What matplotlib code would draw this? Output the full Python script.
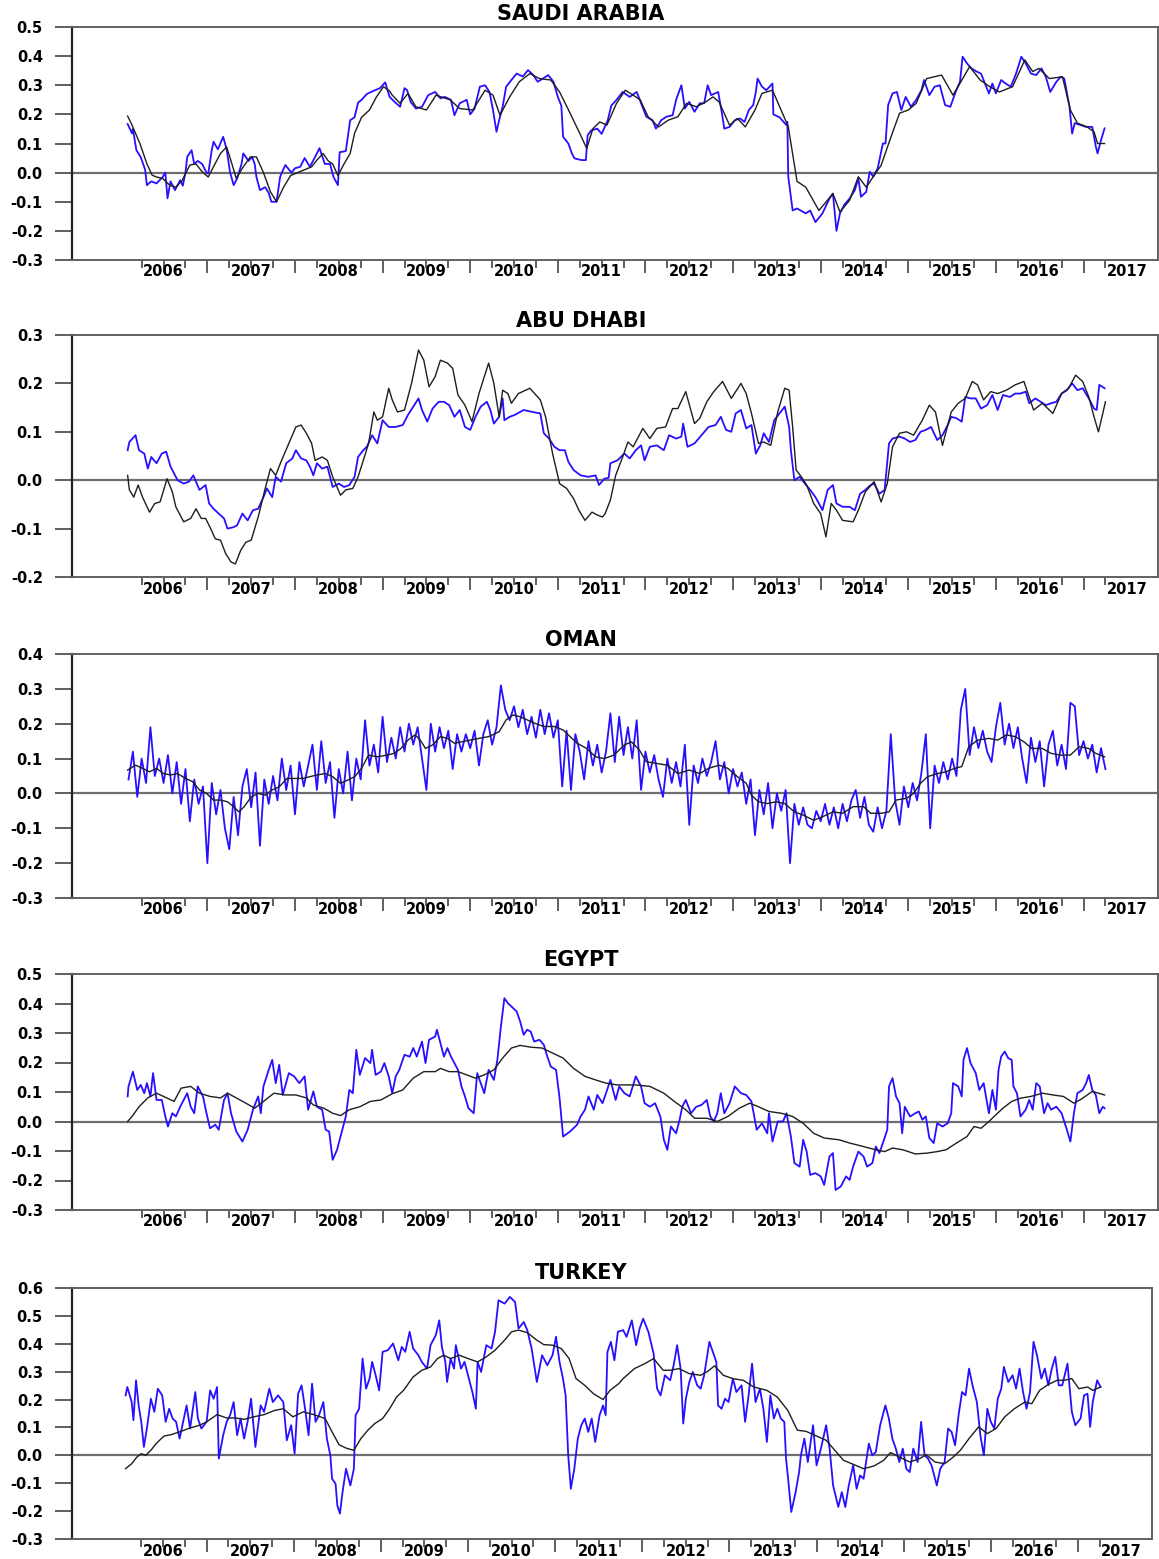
import numpy as np
import matplotlib
matplotlib.use("Agg")
import matplotlib.pyplot as plt

# Values: (decimal year, value)
SA_BLUE = [
    (2006.09, 0.167), (2006.14, 0.135), (2006.15, 0.15), (2006.19, 0.077), (2006.24, 0.053),
    (2006.29, 0.01), (2006.31, -0.043), (2006.36, -0.03), (2006.42, -0.037), (2006.49, -0.015),
    (2006.52, 0.0), (2006.545, -0.088), (2006.58, -0.03), (2006.63, -0.06), (2006.69, -0.026),
    (2006.72, -0.045), (2006.75, 0.0), (2006.77, 0.054), (2006.82, 0.077), (2006.85, 0.03),
    (2006.89, 0.04), (2006.94, 0.03), (2006.99, 0.0), (2007.01, -0.003), (2007.05, 0.077),
    (2007.07, 0.106), (2007.12, 0.08), (2007.18, 0.123), (2007.22, 0.08), (2007.26, 0.0),
    (2007.30, -0.043), (2007.34, -0.02), (2007.39, 0.03), (2007.41, 0.066), (2007.47, 0.04),
    (2007.51, 0.054), (2007.54, 0.03), (2007.56, -0.015), (2007.60, -0.06), (2007.66, -0.05),
    (2007.70, -0.07), (2007.73, -0.10), (2007.79, -0.10), (2007.83, -0.015), (2007.85, 0.0),
    (2007.89, 0.026), (2007.96, 0.0), (2008.00, 0.015), (2008.06, 0.02), (2008.11, 0.05),
    (2008.17, 0.02), (2008.23, 0.054), (2008.28, 0.084), (2008.34, 0.03), (2008.40, 0.03),
    (2008.44, -0.015), (2008.49, -0.043), (2008.51, 0.07), (2008.58, 0.074), (2008.63, 0.18),
    (2008.68, 0.19), (2008.72, 0.24), (2008.76, 0.25), (2008.82, 0.27), (2008.89, 0.28),
    (2008.97, 0.29), (2009.03, 0.31), (2009.08, 0.26), (2009.13, 0.245), (2009.20, 0.226),
    (2009.25, 0.29), (2009.28, 0.283), (2009.32, 0.243), (2009.38, 0.22), (2009.45, 0.226),
    (2009.52, 0.266), (2009.60, 0.277), (2009.66, 0.255), (2009.71, 0.26), (2009.78, 0.25),
    (2009.82, 0.197), (2009.88, 0.238), (2009.96, 0.25), (2010.00, 0.20), (2010.05, 0.22),
    (2010.11, 0.295), (2010.17, 0.30), (2010.22, 0.277), (2010.26, 0.215), (2010.30, 0.14),
    (2010.33, 0.18), (2010.37, 0.226), (2010.41, 0.295), (2010.47, 0.318), (2010.53, 0.34),
    (2010.60, 0.33), (2010.66, 0.352), (2010.72, 0.335), (2010.77, 0.312), (2010.83, 0.323),
    (2010.89, 0.335), (2010.95, 0.312), (2011.00, 0.26), (2011.04, 0.23), (2011.06, 0.123),
    (2011.12, 0.10), (2011.16, 0.066), (2011.19, 0.049), (2011.27, 0.043), (2011.32, 0.043),
    (2011.34, 0.128), (2011.38, 0.145), (2011.45, 0.151), (2011.50, 0.133), (2011.57, 0.18),
    (2011.61, 0.23), (2011.67, 0.25), (2011.74, 0.277), (2011.82, 0.26), (2011.90, 0.277),
    (2011.95, 0.238), (2012.01, 0.192), (2012.08, 0.18), (2012.12, 0.151), (2012.18, 0.18),
    (2012.24, 0.192), (2012.31, 0.197), (2012.35, 0.25), (2012.41, 0.30), (2012.45, 0.22),
    (2012.50, 0.243), (2012.56, 0.209), (2012.62, 0.238), (2012.67, 0.238), (2012.71, 0.30),
    (2012.75, 0.266), (2012.83, 0.277), (2012.87, 0.209), (2012.90, 0.151), (2012.96, 0.157),
    (2013.02, 0.18), (2013.08, 0.186), (2013.13, 0.174), (2013.18, 0.215), (2013.23, 0.232),
    (2013.26, 0.277), (2013.28, 0.323), (2013.33, 0.295), (2013.38, 0.283), (2013.45, 0.306),
    (2013.46, 0.20), (2013.53, 0.19), (2013.61, 0.163), (2013.62, 0.174), (2013.63, -0.014),
    (2013.66, -0.083), (2013.68, -0.13), (2013.73, -0.123), (2013.83, -0.14), (2013.88, -0.13),
    (2013.94, -0.17), (2014.02, -0.14), (2014.10, -0.089), (2014.14, -0.072), (2014.18, -0.20),
    (2014.22, -0.14), (2014.27, -0.11), (2014.33, -0.089), (2014.39, -0.06), (2014.43, -0.02),
    (2014.46, -0.083), (2014.52, -0.066), (2014.56, 0.003), (2014.60, -0.014), (2014.65, 0.014),
    (2014.71, 0.10), (2014.74, 0.10), (2014.77, 0.232), (2014.82, 0.272), (2014.87, 0.277),
    (2014.92, 0.215), (2014.97, 0.26), (2015.03, 0.226), (2015.09, 0.25), (2015.15, 0.283),
    (2015.18, 0.318), (2015.24, 0.266), (2015.30, 0.295), (2015.36, 0.30), (2015.42, 0.232),
    (2015.48, 0.226), (2015.54, 0.277), (2015.59, 0.312), (2015.62, 0.398), (2015.67, 0.375),
    (2015.72, 0.358), (2015.78, 0.347), (2015.83, 0.34), (2015.89, 0.295), (2015.92, 0.272),
    (2015.96, 0.306), (2016.00, 0.272), (2016.06, 0.318), (2016.11, 0.306), (2016.17, 0.295),
    (2016.23, 0.34), (2016.29, 0.398), (2016.34, 0.375), (2016.40, 0.34), (2016.46, 0.335),
    (2016.52, 0.358), (2016.57, 0.329), (2016.62, 0.277), (2016.69, 0.312), (2016.74, 0.329),
    (2016.78, 0.323), (2016.84, 0.226), (2016.87, 0.134), (2016.90, 0.17), (2016.97, 0.163),
    (2017.03, 0.157), (2017.10, 0.157), (2017.14, 0.09), (2017.16, 0.066), (2017.20, 0.112),
    (2017.24, 0.152),
]
SA_BLACK = [
    (2006.09, 0.194), (2006.13, 0.17), (2006.23, 0.10), (2006.31, 0.03), (2006.37, -0.009),
    (2006.42, -0.015), (2006.49, -0.02), (2006.57, -0.043), (2006.64, -0.05), (2006.71, -0.028),
    (2006.80, 0.026), (2006.87, 0.03), (2006.94, 0.003), (2007.01, -0.015), (2007.07, 0.02),
    (2007.15, 0.066), (2007.22, 0.088), (2007.27, 0.04), (2007.33, -0.02), (2007.41, 0.02),
    (2007.49, 0.054), (2007.56, 0.054), (2007.64, 0.0), (2007.72, -0.066), (2007.79, -0.10),
    (2007.87, -0.05), (2007.95, -0.01), (2008.03, 0.0), (2008.11, 0.01), (2008.19, 0.02),
    (2008.25, 0.043), (2008.32, 0.066), (2008.38, 0.04), (2008.43, 0.03), (2008.49, -0.01),
    (2008.56, 0.03), (2008.63, 0.066), (2008.68, 0.135), (2008.76, 0.19), (2008.85, 0.215),
    (2008.93, 0.26), (2009.01, 0.295), (2009.08, 0.28), (2009.11, 0.266), (2009.20, 0.238),
    (2009.29, 0.272), (2009.38, 0.226), (2009.50, 0.215), (2009.61, 0.266), (2009.77, 0.25),
    (2009.88, 0.22), (2010.03, 0.215), (2010.17, 0.283), (2010.26, 0.266), (2010.34, 0.197),
    (2010.45, 0.26), (2010.56, 0.312), (2010.68, 0.34), (2010.79, 0.323), (2010.92, 0.318),
    (2011.02, 0.277), (2011.14, 0.204), (2011.25, 0.135), (2011.33, 0.083), (2011.40, 0.151),
    (2011.48, 0.174), (2011.56, 0.163), (2011.67, 0.238), (2011.77, 0.283), (2011.86, 0.266),
    (2011.94, 0.25), (2012.03, 0.192), (2012.15, 0.157), (2012.26, 0.18), (2012.37, 0.192),
    (2012.47, 0.238), (2012.58, 0.226), (2012.69, 0.243), (2012.77, 0.26), (2012.84, 0.243),
    (2012.96, 0.163), (2013.05, 0.186), (2013.14, 0.157), (2013.25, 0.215), (2013.33, 0.272),
    (2013.45, 0.283), (2013.63, 0.158), (2013.73, -0.03), (2013.83, -0.05), (2013.98, -0.13),
    (2014.14, -0.072), (2014.22, -0.135), (2014.33, -0.095), (2014.43, -0.014), (2014.52, -0.05),
    (2014.60, -0.014), (2014.69, 0.025), (2014.79, 0.112), (2014.90, 0.204), (2015.00, 0.215),
    (2015.09, 0.238), (2015.21, 0.323), (2015.38, 0.335), (2015.51, 0.266), (2015.60, 0.312),
    (2015.70, 0.364), (2015.82, 0.318), (2015.93, 0.295), (2016.04, 0.277), (2016.19, 0.295),
    (2016.33, 0.387), (2016.42, 0.347), (2016.49, 0.358), (2016.61, 0.323), (2016.76, 0.329),
    (2016.85, 0.215), (2016.93, 0.17), (2017.04, 0.157), (2017.12, 0.14), (2017.16, 0.10),
    (2017.24, 0.10),
]

AD_BLUE = [
    (2006.09, 0.062), (2006.11, 0.079), (2006.18, 0.093), (2006.22, 0.062), (2006.28, 0.055),
    (2006.32, 0.024), (2006.36, 0.048), (2006.42, 0.035), (2006.48, 0.055), (2006.53, 0.059),
    (2006.58, 0.028), (2006.66, 0.0), (2006.73, -0.007), (2006.79, -0.003), (2006.84, 0.01),
    (2006.91, -0.02), (2006.98, -0.01), (2007.02, -0.048), (2007.07, -0.059), (2007.13, -0.069),
    (2007.19, -0.079), (2007.23, -0.10), (2007.30, -0.097), (2007.34, -0.093), (2007.40, -0.069),
    (2007.46, -0.083), (2007.52, -0.062), (2007.58, -0.059), (2007.64, -0.035), (2007.68, -0.017),
    (2007.74, -0.035), (2007.78, 0.007), (2007.84, -0.003), (2007.90, 0.035), (2007.97, 0.045),
    (2008.01, 0.062), (2008.07, 0.045), (2008.13, 0.041), (2008.17, 0.028), (2008.21, 0.01),
    (2008.25, 0.035), (2008.31, 0.024), (2008.37, 0.028), (2008.43, -0.014), (2008.50, -0.007),
    (2008.56, -0.014), (2008.62, -0.01), (2008.68, 0.007), (2008.72, 0.048), (2008.78, 0.062),
    (2008.82, 0.069), (2008.88, 0.093), (2008.94, 0.076), (2009.00, 0.124), (2009.07, 0.11),
    (2009.15, 0.11), (2009.23, 0.114), (2009.29, 0.135), (2009.35, 0.152), (2009.41, 0.169),
    (2009.45, 0.145), (2009.51, 0.121), (2009.57, 0.148), (2009.64, 0.162), (2009.70, 0.162),
    (2009.76, 0.155), (2009.82, 0.131), (2009.88, 0.145), (2009.94, 0.11), (2010.00, 0.104),
    (2010.06, 0.131), (2010.12, 0.152), (2010.19, 0.162), (2010.23, 0.145), (2010.27, 0.117),
    (2010.33, 0.131), (2010.37, 0.169), (2010.39, 0.124), (2010.45, 0.131), (2010.51, 0.135),
    (2010.61, 0.145), (2010.71, 0.141), (2010.80, 0.138), (2010.84, 0.097), (2010.90, 0.086),
    (2010.96, 0.069), (2011.02, 0.062), (2011.08, 0.062), (2011.12, 0.038), (2011.18, 0.021),
    (2011.26, 0.01), (2011.35, 0.007), (2011.43, 0.01), (2011.47, -0.01), (2011.53, 0.003),
    (2011.58, 0.005), (2011.60, 0.035), (2011.68, 0.041), (2011.76, 0.055), (2011.82, 0.045),
    (2011.89, 0.062), (2011.95, 0.072), (2011.99, 0.041), (2012.05, 0.069), (2012.13, 0.072),
    (2012.21, 0.062), (2012.27, 0.093), (2012.35, 0.086), (2012.41, 0.090), (2012.43, 0.117),
    (2012.48, 0.069), (2012.56, 0.076), (2012.64, 0.093), (2012.72, 0.11), (2012.80, 0.114),
    (2012.86, 0.131), (2012.92, 0.104), (2012.98, 0.10), (2013.03, 0.138), (2013.09, 0.145),
    (2013.15, 0.107), (2013.21, 0.114), (2013.26, 0.055), (2013.31, 0.072), (2013.35, 0.097),
    (2013.41, 0.079), (2013.47, 0.124), (2013.53, 0.138), (2013.59, 0.152), (2013.64, 0.11),
    (2013.66, 0.062), (2013.70, 0.0), (2013.76, 0.007), (2013.82, -0.007), (2013.88, -0.02),
    (2013.94, -0.035), (2013.98, -0.048), (2014.02, -0.062), (2014.08, -0.02), (2014.14, -0.01),
    (2014.18, -0.048), (2014.25, -0.055), (2014.33, -0.055), (2014.39, -0.062), (2014.45, -0.028),
    (2014.51, -0.02), (2014.57, -0.01), (2014.61, -0.007), (2014.67, -0.028), (2014.73, -0.02),
    (2014.78, 0.076), (2014.82, 0.086), (2014.90, 0.09), (2014.96, 0.086), (2015.02, 0.079),
    (2015.08, 0.083), (2015.14, 0.10), (2015.20, 0.104), (2015.26, 0.11), (2015.33, 0.083),
    (2015.39, 0.093), (2015.45, 0.114), (2015.49, 0.131), (2015.55, 0.128), (2015.61, 0.121),
    (2015.65, 0.172), (2015.71, 0.169), (2015.77, 0.169), (2015.83, 0.148), (2015.90, 0.155),
    (2015.96, 0.176), (2016.02, 0.145), (2016.08, 0.176), (2016.16, 0.172), (2016.22, 0.179),
    (2016.28, 0.179), (2016.34, 0.183), (2016.38, 0.159), (2016.45, 0.169), (2016.51, 0.162),
    (2016.57, 0.155), (2016.63, 0.159), (2016.69, 0.162), (2016.75, 0.179), (2016.81, 0.186),
    (2016.87, 0.20), (2016.93, 0.186), (2016.99, 0.190), (2017.06, 0.169), (2017.12, 0.148),
    (2017.15, 0.145), (2017.18, 0.197), (2017.24, 0.19),
]
AD_BLACK = [
    (2006.09, 0.01), (2006.11, -0.02), (2006.16, -0.035), (2006.21, -0.01), (2006.26, -0.035),
    (2006.34, -0.066), (2006.40, -0.048), (2006.46, -0.045), (2006.54, 0.003), (2006.60, -0.024),
    (2006.64, -0.055), (2006.73, -0.086), (2006.81, -0.079), (2006.87, -0.059), (2006.93, -0.079),
    (2006.98, -0.079), (2007.03, -0.097), (2007.09, -0.121), (2007.15, -0.124), (2007.21, -0.152),
    (2007.27, -0.169), (2007.32, -0.173), (2007.38, -0.145), (2007.44, -0.128), (2007.50, -0.124),
    (2007.58, -0.076), (2007.66, -0.017), (2007.72, 0.024), (2007.78, 0.01), (2007.84, 0.038),
    (2007.93, 0.076), (2008.01, 0.11), (2008.07, 0.114), (2008.13, 0.097), (2008.19, 0.076),
    (2008.23, 0.041), (2008.31, 0.048), (2008.37, 0.041), (2008.43, 0.007), (2008.52, -0.031),
    (2008.58, -0.02), (2008.66, -0.017), (2008.72, 0.007), (2008.78, 0.041), (2008.84, 0.076),
    (2008.90, 0.141), (2008.94, 0.124), (2009.00, 0.131), (2009.07, 0.19), (2009.11, 0.166),
    (2009.17, 0.141), (2009.25, 0.145), (2009.33, 0.20), (2009.41, 0.269), (2009.47, 0.248),
    (2009.53, 0.193), (2009.60, 0.214), (2009.66, 0.248), (2009.74, 0.242), (2009.80, 0.231),
    (2009.86, 0.176), (2009.94, 0.155), (2010.02, 0.121), (2010.10, 0.179), (2010.21, 0.242),
    (2010.27, 0.20), (2010.33, 0.131), (2010.37, 0.186), (2010.43, 0.179), (2010.47, 0.159),
    (2010.55, 0.179), (2010.68, 0.19), (2010.80, 0.166), (2010.86, 0.131), (2010.94, 0.055),
    (2011.02, -0.007), (2011.10, -0.017), (2011.18, -0.038), (2011.24, -0.062), (2011.31, -0.083),
    (2011.39, -0.066), (2011.45, -0.072), (2011.51, -0.076), (2011.54, -0.069), (2011.60, -0.041),
    (2011.66, 0.01), (2011.74, 0.048), (2011.80, 0.079), (2011.86, 0.069), (2011.97, 0.107),
    (2012.05, 0.086), (2012.13, 0.107), (2012.23, 0.11), (2012.31, 0.148), (2012.37, 0.148),
    (2012.46, 0.183), (2012.56, 0.117), (2012.62, 0.128), (2012.70, 0.162), (2012.78, 0.183),
    (2012.88, 0.204), (2012.98, 0.169), (2013.09, 0.20), (2013.15, 0.179), (2013.21, 0.138),
    (2013.29, 0.076), (2013.35, 0.079), (2013.43, 0.072), (2013.51, 0.141), (2013.59, 0.19),
    (2013.64, 0.186), (2013.68, 0.11), (2013.72, 0.021), (2013.78, 0.007), (2013.84, -0.01),
    (2013.92, -0.048), (2014.00, -0.069), (2014.06, -0.117), (2014.12, -0.048), (2014.18, -0.062),
    (2014.25, -0.083), (2014.37, -0.086), (2014.43, -0.062), (2014.51, -0.024), (2014.61, -0.003),
    (2014.69, -0.045), (2014.76, -0.007), (2014.82, 0.069), (2014.90, 0.097), (2014.98, 0.10),
    (2015.06, 0.093), (2015.16, 0.124), (2015.24, 0.155), (2015.31, 0.141), (2015.39, 0.072),
    (2015.49, 0.141), (2015.57, 0.159), (2015.65, 0.169), (2015.73, 0.204), (2015.79, 0.197),
    (2015.86, 0.166), (2015.94, 0.183), (2016.02, 0.179), (2016.12, 0.186), (2016.22, 0.197),
    (2016.32, 0.204), (2016.43, 0.145), (2016.53, 0.159), (2016.65, 0.138), (2016.75, 0.179),
    (2016.83, 0.19), (2016.91, 0.217), (2016.99, 0.204), (2017.06, 0.172), (2017.12, 0.131),
    (2017.17, 0.10), (2017.22, 0.138), (2017.25, 0.162),
]

# Oman: noisy daily series read at a regular 0.05-year step from 2006.10 to 2017.25
OMAN_BLUE = [
    # 2006.10 - 2006.95
    0.04, 0.12, -0.01, 0.10, 0.03, 0.19, 0.05, 0.10, 0.03, 0.11, 0.00, 0.09, -0.03, 0.07, -0.08, 0.04, -0.03, 0.02,
    # 2007
    -0.20, 0.03, -0.06, 0.01, -0.10, -0.16, -0.01, -0.12, 0.02, 0.07, -0.04, 0.06, -0.15, 0.04, -0.03, 0.05, -0.02, 0.10, 0.01, 0.08,
    # 2008
    -0.06, 0.09, 0.02, 0.08, 0.14, 0.01, 0.15, 0.03, 0.09, -0.07, 0.07, 0.00, 0.12, -0.02, 0.10, 0.04, 0.21, 0.08, 0.14, 0.06,
    # 2009
    0.22, 0.09, 0.16, 0.10, 0.19, 0.12, 0.20, 0.14, 0.19, 0.10, 0.01, 0.20, 0.12, 0.19, 0.13, 0.18, 0.07, 0.17, 0.12, 0.17,
    # 2010
    0.13, 0.18, 0.08, 0.17, 0.21, 0.14, 0.19, 0.31, 0.24, 0.21, 0.25, 0.19, 0.24, 0.17, 0.22, 0.16, 0.24, 0.17, 0.23, 0.16,
    # 2011
    0.21, 0.02, 0.18, 0.01, 0.17, 0.12, 0.04, 0.15, 0.08, 0.14, 0.06, 0.12, 0.23, 0.09, 0.22, 0.11, 0.19, 0.10, 0.21, 0.01,
    # 2012
    0.12, 0.06, 0.11, 0.04, -0.01, 0.10, 0.03, 0.09, 0.02, 0.14, -0.09, 0.08, 0.03, 0.10, 0.05, 0.09, 0.15, 0.04, 0.09, 0.00,
    # 2013
    0.07, 0.02, 0.06, -0.03, 0.04, -0.12, 0.01, -0.06, 0.03, -0.10, 0.00, -0.05, 0.01, -0.20, -0.03, -0.09, -0.04, -0.09, -0.10, -0.05,
    # 2014
    -0.08, -0.03, -0.09, -0.04, -0.10, -0.03, -0.08, -0.02, 0.01, -0.07, -0.01, -0.09, -0.11, -0.04, -0.10, -0.05, 0.17, -0.02, -0.09, 0.02,
    # 2015
    -0.04, 0.03, -0.02, 0.06, 0.17, -0.10, 0.08, 0.03, 0.09, 0.04, 0.10, 0.05, 0.24, 0.30, 0.11, 0.19, 0.13, 0.18, 0.12, 0.09,
    # 2016
    0.19, 0.26, 0.14, 0.20, 0.13, 0.19, 0.10, 0.03, 0.16, 0.09, 0.15, 0.02, 0.14, 0.18, 0.08, 0.14, 0.07, 0.26, 0.25, 0.11,
    # 2017.00 - 2017.25
    0.15, 0.10, 0.14, 0.06, 0.13, 0.07,
]
OMAN_BLACK = [
    (2006.09, 0.067), (2006.18, 0.081), (2006.26, 0.072), (2006.34, 0.062), (2006.42, 0.072),
    (2006.50, 0.057), (2006.58, 0.053), (2006.66, 0.057), (2006.75, 0.043), (2006.83, 0.034),
    (2006.91, 0.01), (2006.99, 0.0), (2007.07, -0.019), (2007.15, -0.019), (2007.23, -0.024),
    (2007.30, -0.038), (2007.36, -0.053), (2007.42, -0.038), (2007.50, -0.01), (2007.58, 0.0),
    (2007.66, -0.005), (2007.74, 0.01), (2007.82, 0.019), (2007.91, 0.043), (2007.99, 0.043),
    (2008.09, 0.043), (2008.17, 0.048), (2008.25, 0.053), (2008.35, 0.057), (2008.43, 0.048),
    (2008.52, 0.029), (2008.60, 0.038), (2008.68, 0.048), (2008.76, 0.072), (2008.84, 0.11),
    (2008.94, 0.105), (2009.05, 0.11), (2009.13, 0.115), (2009.21, 0.129), (2009.29, 0.153),
    (2009.37, 0.168), (2009.43, 0.153), (2009.49, 0.129), (2009.57, 0.139), (2009.66, 0.163),
    (2009.74, 0.158), (2009.82, 0.144), (2009.90, 0.148), (2010.00, 0.153), (2010.10, 0.158),
    (2010.21, 0.163), (2010.33, 0.177), (2010.41, 0.211), (2010.49, 0.225), (2010.57, 0.22),
    (2010.65, 0.211), (2010.74, 0.201), (2010.84, 0.192), (2010.96, 0.192), (2011.06, 0.182),
    (2011.14, 0.163), (2011.22, 0.144), (2011.33, 0.129), (2011.43, 0.105), (2011.53, 0.10),
    (2011.64, 0.11), (2011.76, 0.139), (2011.84, 0.148), (2011.93, 0.125), (2012.01, 0.091),
    (2012.13, 0.086), (2012.25, 0.081), (2012.37, 0.057), (2012.50, 0.067), (2012.62, 0.057),
    (2012.72, 0.072), (2012.84, 0.081), (2012.94, 0.072), (2013.05, 0.048), (2013.15, 0.029),
    (2013.21, -0.005), (2013.29, -0.024), (2013.39, -0.029), (2013.49, -0.024), (2013.59, -0.029),
    (2013.70, -0.053), (2013.80, -0.062), (2013.92, -0.077), (2014.02, -0.067), (2014.14, -0.053),
    (2014.25, -0.057), (2014.37, -0.038), (2014.49, -0.038), (2014.57, -0.057), (2014.69, -0.057),
    (2014.78, -0.053), (2014.86, -0.019), (2014.98, -0.014), (2015.06, 0.0), (2015.14, 0.029),
    (2015.22, 0.048), (2015.33, 0.057), (2015.43, 0.062), (2015.53, 0.072), (2015.61, 0.077),
    (2015.69, 0.134), (2015.79, 0.153), (2015.92, 0.158), (2016.02, 0.153), (2016.12, 0.168),
    (2016.22, 0.163), (2016.32, 0.148), (2016.41, 0.129), (2016.53, 0.129), (2016.63, 0.115),
    (2016.73, 0.11), (2016.85, 0.11), (2016.95, 0.134), (2017.06, 0.129), (2017.14, 0.115),
    (2017.24, 0.105),
]

EG_BLUE = [
    (2006.09, 0.085), (2006.10, 0.119), (2006.15, 0.169), (2006.20, 0.107), (2006.24, 0.124),
    (2006.28, 0.096), (2006.31, 0.13), (2006.35, 0.085), (2006.38, 0.164), (2006.42, 0.073),
    (2006.48, 0.073), (2006.52, 0.017), (2006.55, -0.017), (2006.60, 0.028), (2006.64, 0.017),
    (2006.70, 0.056), (2006.77, 0.096), (2006.81, 0.05), (2006.85, 0.028), (2006.89, 0.119),
    (2006.95, 0.085), (2006.99, 0.028), (2007.03, -0.023), (2007.09, -0.011), (2007.13, -0.028),
    (2007.19, 0.073), (2007.23, 0.096), (2007.27, 0.028), (2007.33, -0.034), (2007.40, -0.068),
    (2007.46, -0.028), (2007.52, 0.04), (2007.58, 0.085), (2007.61, 0.028), (2007.64, 0.119),
    (2007.70, 0.175), (2007.74, 0.209), (2007.78, 0.13), (2007.82, 0.192), (2007.86, 0.09),
    (2007.93, 0.164), (2007.99, 0.153), (2008.05, 0.13), (2008.11, 0.153), (2008.15, 0.04),
    (2008.21, 0.102), (2008.25, 0.05), (2008.31, 0.04), (2008.35, -0.028), (2008.39, -0.034),
    (2008.43, -0.13), (2008.48, -0.096), (2008.54, -0.028), (2008.58, 0.017), (2008.62, 0.107),
    (2008.66, 0.096), (2008.70, 0.243), (2008.74, 0.158), (2008.80, 0.215), (2008.86, 0.198),
    (2008.88, 0.243), (2008.92, 0.158), (2008.98, 0.169), (2009.02, 0.198), (2009.07, 0.153),
    (2009.11, 0.096), (2009.15, 0.153), (2009.19, 0.175), (2009.25, 0.226), (2009.31, 0.22),
    (2009.35, 0.249), (2009.39, 0.22), (2009.45, 0.271), (2009.49, 0.198), (2009.53, 0.277),
    (2009.60, 0.288), (2009.62, 0.311), (2009.66, 0.266), (2009.70, 0.22), (2009.74, 0.249),
    (2009.78, 0.22), (2009.82, 0.198), (2009.86, 0.175), (2009.90, 0.119), (2009.94, 0.085),
    (2009.98, 0.045), (2010.04, 0.028), (2010.08, 0.164), (2010.12, 0.13), (2010.16, 0.096),
    (2010.21, 0.175), (2010.27, 0.141), (2010.31, 0.209), (2010.35, 0.322), (2010.39, 0.418),
    (2010.43, 0.401), (2010.47, 0.39), (2010.53, 0.373), (2010.57, 0.339), (2010.61, 0.294),
    (2010.65, 0.311), (2010.69, 0.305), (2010.73, 0.271), (2010.79, 0.277), (2010.84, 0.26),
    (2010.88, 0.22), (2010.92, 0.186), (2010.98, 0.175), (2011.02, 0.079), (2011.06, -0.051),
    (2011.14, -0.034), (2011.22, -0.011), (2011.26, 0.017), (2011.31, 0.04), (2011.35, 0.085),
    (2011.41, 0.04), (2011.45, 0.09), (2011.51, 0.062), (2011.55, 0.096), (2011.60, 0.141),
    (2011.66, 0.073), (2011.70, 0.119), (2011.76, 0.096), (2011.82, 0.085), (2011.89, 0.153),
    (2011.95, 0.119), (2011.99, 0.062), (2012.05, 0.05), (2012.11, 0.062), (2012.17, 0.017),
    (2012.21, -0.062), (2012.25, -0.096), (2012.29, -0.017), (2012.35, -0.04), (2012.39, 0.006),
    (2012.42, 0.05), (2012.46, 0.073), (2012.52, 0.028), (2012.58, 0.05), (2012.64, 0.056),
    (2012.70, 0.073), (2012.74, 0.017), (2012.78, 0.0), (2012.82, 0.028), (2012.86, 0.096),
    (2012.90, 0.028), (2012.96, 0.062), (2013.02, 0.119), (2013.09, 0.096), (2013.15, 0.09),
    (2013.21, 0.068), (2013.27, -0.028), (2013.33, -0.006), (2013.39, -0.04), (2013.41, 0.028),
    (2013.45, -0.068), (2013.51, 0.0), (2013.57, 0.0), (2013.61, 0.028), (2013.66, -0.051),
    (2013.70, -0.141), (2013.76, -0.153), (2013.80, -0.062), (2013.84, -0.102), (2013.88, -0.181),
    (2013.94, -0.175), (2014.00, -0.186), (2014.04, -0.215), (2014.10, -0.119), (2014.14, -0.107),
    (2014.17, -0.232), (2014.23, -0.22), (2014.29, -0.186), (2014.33, -0.198), (2014.37, -0.153),
    (2014.43, -0.102), (2014.49, -0.119), (2014.53, -0.153), (2014.59, -0.141), (2014.63, -0.085),
    (2014.67, -0.107), (2014.71, -0.073), (2014.76, -0.028), (2014.78, 0.119), (2014.82, 0.147),
    (2014.86, 0.085), (2014.90, 0.062), (2014.93, -0.04), (2014.96, 0.05), (2015.02, 0.017),
    (2015.08, 0.028), (2015.12, 0.034), (2015.16, 0.006), (2015.20, 0.017), (2015.24, -0.056),
    (2015.29, -0.073), (2015.33, -0.006), (2015.39, -0.017), (2015.45, -0.006), (2015.49, 0.028),
    (2015.51, 0.13), (2015.57, 0.119), (2015.61, 0.085), (2015.63, 0.209), (2015.67, 0.249),
    (2015.71, 0.198), (2015.77, 0.164), (2015.81, 0.107), (2015.86, 0.13), (2015.90, 0.062),
    (2015.92, 0.028), (2015.96, 0.107), (2016.00, 0.04), (2016.03, 0.175), (2016.06, 0.22),
    (2016.10, 0.237), (2016.14, 0.215), (2016.18, 0.209), (2016.20, 0.119), (2016.24, 0.096),
    (2016.28, 0.017), (2016.34, 0.04), (2016.38, 0.073), (2016.42, 0.04), (2016.46, 0.13),
    (2016.50, 0.119), (2016.55, 0.028), (2016.59, 0.062), (2016.63, 0.04), (2016.69, 0.05),
    (2016.75, 0.028), (2016.81, -0.028), (2016.85, -0.068), (2016.89, 0.028), (2016.93, 0.096),
    (2016.99, 0.107), (2017.03, 0.13), (2017.06, 0.158), (2017.10, 0.107), (2017.14, 0.09),
    (2017.18, 0.028), (2017.22, 0.05), (2017.24, 0.045),
]
EG_BLACK = [
    (2006.09, 0.0), (2006.14, 0.017), (2006.22, 0.05), (2006.32, 0.08), (2006.42, 0.096),
    (2006.50, 0.085), (2006.62, 0.068), (2006.70, 0.113), (2006.81, 0.119), (2006.91, 0.096),
    (2007.03, 0.085), (2007.15, 0.08), (2007.23, 0.096), (2007.33, 0.08), (2007.44, 0.062),
    (2007.54, 0.045), (2007.64, 0.068), (2007.76, 0.096), (2007.89, 0.09), (2008.01, 0.09),
    (2008.13, 0.08), (2008.21, 0.056), (2008.33, 0.045), (2008.43, 0.028), (2008.52, 0.02),
    (2008.62, 0.04), (2008.74, 0.05), (2008.86, 0.068), (2008.98, 0.073), (2009.11, 0.094),
    (2009.23, 0.107), (2009.35, 0.147), (2009.47, 0.169), (2009.60, 0.169), (2009.66, 0.18),
    (2009.76, 0.169), (2009.86, 0.169), (2009.96, 0.158), (2010.06, 0.147), (2010.16, 0.158),
    (2010.27, 0.175), (2010.37, 0.215), (2010.47, 0.249), (2010.57, 0.258), (2010.69, 0.252),
    (2010.82, 0.249), (2010.94, 0.232), (2011.06, 0.215), (2011.18, 0.18), (2011.31, 0.153),
    (2011.43, 0.141), (2011.55, 0.13), (2011.68, 0.124), (2011.89, 0.124), (2012.05, 0.119),
    (2012.21, 0.096), (2012.33, 0.068), (2012.46, 0.04), (2012.56, 0.011), (2012.70, 0.011),
    (2012.82, 0.0), (2012.94, 0.017), (2013.07, 0.045), (2013.19, 0.062), (2013.29, 0.05),
    (2013.41, 0.034), (2013.55, 0.028), (2013.68, 0.017), (2013.80, -0.006), (2013.92, -0.04),
    (2014.04, -0.056), (2014.21, -0.062), (2014.33, -0.073), (2014.49, -0.085), (2014.63, -0.096),
    (2014.73, -0.102), (2014.82, -0.09), (2014.94, -0.096), (2015.08, -0.11), (2015.22, -0.107),
    (2015.33, -0.102), (2015.43, -0.096), (2015.55, -0.073), (2015.67, -0.051), (2015.75, -0.017),
    (2015.83, -0.023), (2015.92, 0.0), (2016.00, 0.023), (2016.08, 0.045), (2016.18, 0.068),
    (2016.28, 0.079), (2016.40, 0.085), (2016.53, 0.096), (2016.65, 0.09), (2016.77, 0.085),
    (2016.89, 0.062), (2016.97, 0.075), (2017.10, 0.102), (2017.24, 0.09),
]

TR_BLUE = [
    (2006.07, 0.215), (2006.09, 0.245), (2006.14, 0.191), (2006.16, 0.126), (2006.19, 0.269),
    (2006.22, 0.179), (2006.25, 0.12), (2006.28, 0.03), (2006.32, 0.108), (2006.36, 0.203),
    (2006.40, 0.156), (2006.44, 0.239), (2006.49, 0.215), (2006.53, 0.12), (2006.57, 0.167),
    (2006.61, 0.132), (2006.65, 0.12), (2006.69, 0.06), (2006.73, 0.12), (2006.77, 0.179),
    (2006.81, 0.096), (2006.87, 0.227), (2006.90, 0.132), (2006.94, 0.096), (2007.00, 0.12),
    (2007.04, 0.233), (2007.08, 0.203), (2007.12, 0.245), (2007.14, -0.012), (2007.19, 0.072),
    (2007.23, 0.12), (2007.27, 0.144), (2007.31, 0.191), (2007.35, 0.072), (2007.39, 0.132),
    (2007.43, 0.06), (2007.47, 0.12), (2007.51, 0.203), (2007.56, 0.03), (2007.62, 0.179),
    (2007.66, 0.156), (2007.72, 0.239), (2007.76, 0.191), (2007.82, 0.215), (2007.88, 0.191),
    (2007.92, 0.054), (2007.97, 0.108), (2008.01, 0.006), (2008.05, 0.221), (2008.09, 0.251),
    (2008.13, 0.167), (2008.17, 0.072), (2008.21, 0.257), (2008.25, 0.12), (2008.29, 0.144),
    (2008.34, 0.191), (2008.38, 0.06), (2008.42, 0.0), (2008.44, -0.084), (2008.48, -0.102),
    (2008.50, -0.179), (2008.53, -0.209), (2008.56, -0.132), (2008.60, -0.048), (2008.65, -0.108),
    (2008.69, -0.048), (2008.71, 0.144), (2008.75, 0.167), (2008.79, 0.347), (2008.83, 0.239),
    (2008.87, 0.275), (2008.90, 0.335), (2008.94, 0.287), (2008.98, 0.233), (2009.02, 0.371),
    (2009.08, 0.377), (2009.14, 0.401), (2009.20, 0.341), (2009.24, 0.389), (2009.28, 0.371),
    (2009.33, 0.443), (2009.37, 0.383), (2009.43, 0.359), (2009.47, 0.335), (2009.53, 0.311),
    (2009.57, 0.395), (2009.63, 0.431), (2009.67, 0.484), (2009.70, 0.389), (2009.74, 0.335),
    (2009.76, 0.263), (2009.80, 0.347), (2009.84, 0.311), (2009.86, 0.395), (2009.92, 0.311),
    (2009.96, 0.335), (2010.00, 0.287), (2010.05, 0.227), (2010.09, 0.167), (2010.11, 0.335),
    (2010.15, 0.299), (2010.21, 0.395), (2010.27, 0.383), (2010.31, 0.443), (2010.35, 0.556),
    (2010.42, 0.544), (2010.48, 0.568), (2010.54, 0.55), (2010.58, 0.455), (2010.64, 0.478),
    (2010.68, 0.449), (2010.73, 0.383), (2010.79, 0.263), (2010.85, 0.359), (2010.91, 0.323),
    (2010.97, 0.359), (2011.01, 0.425), (2011.05, 0.335), (2011.09, 0.275), (2011.12, 0.215),
    (2011.15, 0.0), (2011.18, -0.12), (2011.22, -0.048), (2011.26, 0.06), (2011.30, 0.108),
    (2011.34, 0.132), (2011.38, 0.084), (2011.42, 0.132), (2011.46, 0.048), (2011.51, 0.144),
    (2011.55, 0.179), (2011.58, 0.144), (2011.60, 0.371), (2011.64, 0.407), (2011.68, 0.341),
    (2011.72, 0.443), (2011.78, 0.449), (2011.82, 0.425), (2011.88, 0.484), (2011.93, 0.395),
    (2011.97, 0.455), (2012.01, 0.49), (2012.07, 0.443), (2012.13, 0.365), (2012.17, 0.239),
    (2012.21, 0.215), (2012.26, 0.287), (2012.32, 0.269), (2012.36, 0.323), (2012.40, 0.395),
    (2012.44, 0.311), (2012.47, 0.114), (2012.50, 0.203), (2012.54, 0.263), (2012.58, 0.299),
    (2012.63, 0.251), (2012.67, 0.239), (2012.71, 0.287), (2012.77, 0.407), (2012.81, 0.371),
    (2012.85, 0.335), (2012.87, 0.179), (2012.91, 0.167), (2012.95, 0.203), (2012.99, 0.191),
    (2013.04, 0.275), (2013.08, 0.227), (2013.14, 0.251), (2013.18, 0.12), (2013.22, 0.215),
    (2013.26, 0.329), (2013.30, 0.191), (2013.35, 0.239), (2013.39, 0.167), (2013.43, 0.048),
    (2013.47, 0.215), (2013.51, 0.132), (2013.55, 0.167), (2013.59, 0.132), (2013.63, 0.12),
    (2013.65, -0.012), (2013.67, -0.072), (2013.71, -0.203), (2013.76, -0.132), (2013.80, -0.06),
    (2013.82, 0.0), (2013.86, 0.06), (2013.90, -0.024), (2013.96, 0.108), (2014.00, -0.036),
    (2014.05, 0.024), (2014.11, 0.108), (2014.15, 0.024), (2014.19, -0.108), (2014.25, -0.185),
    (2014.29, -0.132), (2014.33, -0.185), (2014.37, -0.108), (2014.42, -0.036), (2014.46, -0.12),
    (2014.50, -0.072), (2014.54, -0.084), (2014.58, 0.0), (2014.60, 0.042), (2014.64, 0.0),
    (2014.68, 0.012), (2014.73, 0.108), (2014.79, 0.179), (2014.83, 0.132), (2014.87, 0.06),
    (2014.91, 0.024), (2014.95, -0.024), (2014.99, 0.024), (2015.03, -0.048), (2015.07, -0.06),
    (2015.11, 0.024), (2015.16, -0.024), (2015.20, 0.12), (2015.24, 0.0), (2015.28, -0.012),
    (2015.32, -0.036), (2015.38, -0.108), (2015.42, -0.048), (2015.47, -0.024), (2015.51, 0.096),
    (2015.55, 0.084), (2015.59, 0.036), (2015.63, 0.144), (2015.67, 0.227), (2015.71, 0.215),
    (2015.75, 0.311), (2015.79, 0.251), (2015.84, 0.191), (2015.88, 0.072), (2015.92, 0.0),
    (2015.96, 0.167), (2016.00, 0.12), (2016.04, 0.096), (2016.08, 0.203), (2016.12, 0.239),
    (2016.15, 0.317), (2016.20, 0.263), (2016.25, 0.287), (2016.29, 0.239), (2016.33, 0.311),
    (2016.37, 0.227), (2016.41, 0.167), (2016.45, 0.227), (2016.49, 0.407), (2016.53, 0.359),
    (2016.58, 0.275), (2016.62, 0.311), (2016.66, 0.251), (2016.70, 0.311), (2016.74, 0.353),
    (2016.78, 0.251), (2016.82, 0.251), (2016.88, 0.329), (2016.93, 0.156), (2016.97, 0.108),
    (2017.03, 0.132), (2017.07, 0.215), (2017.11, 0.221), (2017.14, 0.102), (2017.17, 0.191),
    (2017.22, 0.269), (2017.26, 0.245),
]
TR_BLACK = [
    (2006.07, -0.048), (2006.14, -0.03), (2006.20, -0.006), (2006.25, 0.006), (2006.30, 0.0),
    (2006.36, 0.018), (2006.42, 0.042), (2006.51, 0.069), (2006.59, 0.074), (2006.69, 0.084),
    (2006.79, 0.096), (2006.92, 0.108), (2007.00, 0.12), (2007.12, 0.146), (2007.23, 0.134),
    (2007.33, 0.134), (2007.43, 0.129), (2007.54, 0.138), (2007.66, 0.146), (2007.78, 0.161),
    (2007.88, 0.167), (2007.99, 0.138), (2008.11, 0.156), (2008.23, 0.146), (2008.36, 0.132),
    (2008.44, 0.084), (2008.52, 0.038), (2008.60, 0.026), (2008.69, 0.018), (2008.77, 0.06),
    (2008.85, 0.09), (2008.93, 0.114), (2009.02, 0.132), (2009.10, 0.167), (2009.18, 0.209),
    (2009.26, 0.233), (2009.37, 0.281), (2009.47, 0.305), (2009.57, 0.317), (2009.65, 0.347),
    (2009.72, 0.359), (2009.80, 0.347), (2009.90, 0.359), (2010.00, 0.347), (2010.11, 0.335),
    (2010.21, 0.353), (2010.31, 0.377), (2010.42, 0.413), (2010.50, 0.443), (2010.58, 0.449),
    (2010.68, 0.44), (2010.79, 0.413), (2010.87, 0.397), (2010.97, 0.395), (2011.07, 0.383),
    (2011.16, 0.347), (2011.24, 0.275), (2011.34, 0.251), (2011.44, 0.221), (2011.55, 0.20),
    (2011.63, 0.233), (2011.73, 0.257), (2011.78, 0.275), (2011.91, 0.311), (2012.03, 0.329),
    (2012.13, 0.347), (2012.24, 0.305), (2012.32, 0.305), (2012.42, 0.311), (2012.54, 0.293),
    (2012.67, 0.287), (2012.75, 0.301), (2012.83, 0.321), (2012.93, 0.287), (2013.04, 0.275),
    (2013.16, 0.269), (2013.28, 0.245), (2013.43, 0.233), (2013.55, 0.209), (2013.67, 0.161),
    (2013.78, 0.09), (2013.88, 0.086), (2013.98, 0.072), (2014.11, 0.054), (2014.21, 0.018),
    (2014.31, -0.018), (2014.42, -0.032), (2014.54, -0.048), (2014.66, -0.038), (2014.77, -0.018),
    (2014.85, 0.01), (2014.95, -0.006), (2015.07, -0.024), (2015.18, -0.012), (2015.26, 0.002),
    (2015.36, -0.024), (2015.47, -0.03), (2015.57, -0.006), (2015.65, 0.018), (2015.75, 0.06),
    (2015.86, 0.102), (2015.96, 0.078), (2016.06, 0.096), (2016.16, 0.138), (2016.27, 0.167),
    (2016.39, 0.191), (2016.47, 0.185), (2016.56, 0.233), (2016.66, 0.254), (2016.76, 0.269),
    (2016.84, 0.269), (2016.93, 0.275), (2017.01, 0.239), (2017.11, 0.245), (2017.17, 0.233),
    (2017.26, 0.245),
]

TITLES = ["SAUDI ARABIA", "ABU DHABI", "OMAN", "EGYPT", "TURKEY"]
YLIMS = [(-0.3, 0.5), (-0.2, 0.3), (-0.3, 0.4), (-0.3, 0.5), (-0.3, 0.6)]
YEARS = list(range(2006, 2018))

oman_t = np.linspace(2006.10, 2017.25, len(OMAN_BLUE))
series = [
    (np.array(SA_BLUE).T, np.array(SA_BLACK).T),
    (np.array(AD_BLUE).T, np.array(AD_BLACK).T),
    ((oman_t, np.array(OMAN_BLUE)), np.array(OMAN_BLACK).T),
    (np.array(EG_BLUE).T, np.array(EG_BLACK).T),
    (np.array(TR_BLUE).T, np.array(TR_BLACK).T),
]

W, H = 1159, 1559
# axes boxes in pixels: left, top, right, bottom
boxes = [(72, 27, 1158, 260), (72, 335, 1158, 577), (72, 654, 1158, 898),
         (72, 974, 1158, 1210), (72, 1288, 1152, 1539)]
title_y = [14, 321, 640, 960, 1273]

plt.rcParams["font.family"] = ["DejaVu Sans"]
fig = plt.figure(figsize=(W / 100, H / 100), dpi=100)

quarters = [y + q for y in range(2006, 2018) for q in (0.25, 0.5, 0.75)]
quarters = [q for q in quarters if q <= 2017.25]

for i, ((bt, bv), (kt, kv)) in enumerate(series):
    l, t, r, b = boxes[i]
    ax = fig.add_axes([l / W, 1 - b / H, (r - l) / W, (b - t) / H])
    lo, hi = YLIMS[i]
    ax.set_xlim(2005.455, 2017.85)
    ax.set_ylim(lo, hi)

    ax.axhline(0, color="#6e6e6e", lw=1.6, zorder=1)
    ax.plot(bt, bv, color="#2610ff", lw=1.3, zorder=2)
    ax.plot(kt, kv, color="#1e1e1e", lw=1.0, zorder=3)

    yt = np.round(np.arange(lo, hi + 1e-9, 0.1), 1)
    ax.set_yticks(yt)
    ax.set_yticklabels([f"{v:.1f}" for v in yt], fontsize=10.5, fontweight="bold")
    ax.tick_params(axis="y", direction="out", length=12, width=1.2,
                   color="#444444", pad=9)

    ax.set_xticks(range(2007, 2018))
    ax.set_xticklabels([])
    ax.set_xticks(quarters, minor=True)
    ax.tick_params(axis="x", which="major", direction="out", length=9,
                   width=1.2, color="#444444")
    ax.tick_params(axis="x", which="minor", direction="out", length=6,
                   width=1.2, color="#444444")
    for yr in YEARS:
        ax.annotate(str(yr), xy=(yr + 0.5, 0), xycoords=("data", "axes fraction"),
                    xytext=(0, -12), textcoords="offset pixels",
                    ha="center", va="center", fontsize=10.5, fontweight="bold",
                    annotation_clip=False)

    for side in ("top", "right", "bottom"):
        ax.spines[side].set_color("#606060")
        ax.spines[side].set_linewidth(1.4)
    ax.spines["left"].set_color("#222222")
    ax.spines["left"].set_linewidth(1.6)

    fig.text(581 / W, 1 - title_y[i] / H, TITLES[i], ha="center", va="center",
             fontsize=15, fontweight="bold")

fig.savefig("out.png", dpi=100)
